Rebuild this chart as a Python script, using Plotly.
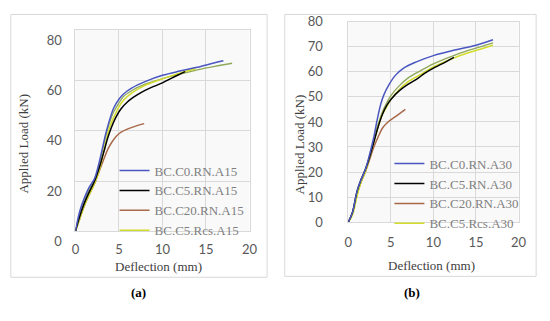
import plotly.graph_objects as go

# ---------------- data: panel (a) ----------------
a_c0_x = [0, 0.5, 1.0, 1.5, 2.2, 2.7, 3.1, 3.5, 3.9, 4.4, 5.0, 5.5, 6.5, 8.0, 10.0, 12.0, 14.0, 16.0, 17.0]
a_c0_y = [0, 8, 13, 17, 21, 27, 33, 39, 44, 49, 52.5, 54.5, 57, 59.5, 62, 63.7, 65.2, 67, 67.8]
a_c5_x = [0, 0.5, 1.0, 1.5, 2.2, 2.8, 3.3, 3.7, 4.1, 4.6, 5.2, 6.0, 7.0, 8.0, 9.0, 10.0, 11.0, 12.0, 12.6]
a_c5_y = [0, 6, 11, 15, 20, 26, 32, 37, 41, 45, 48.5, 51.5, 54, 56, 57.6, 59, 60.8, 62.5, 63.5]
a_c20_x = [0, 0.5, 1.0, 1.5, 2.2, 2.8, 3.3, 3.7, 4.2, 4.7, 5.3, 6.5, 7.9]
a_c20_y = [0, 5, 10, 14, 19, 24.5, 29, 32.5, 35.5, 37.8, 39.5, 41.3, 42.8]
a_rcs_x = [0, 0.5, 1.0, 1.5, 2.2, 2.8, 3.2, 3.6, 4.0, 4.5, 5.0, 5.5, 6.5, 8.0, 9.5, 11.0, 12.5, 13.8]
a_rcs_y = [0, 5, 10, 14, 19, 25, 31, 37, 42, 46, 49.5, 52, 55, 58, 60, 61.8, 63.4, 64.6]
a_extra_x = [0, 0.5, 1.0, 1.5, 2.2, 2.7, 3.1, 3.5, 3.9, 4.4, 5.0, 5.5, 6.5, 8.0, 10.0, 12.0, 14.0, 16.0, 18.0]
a_extra_y = [0, 7, 12, 16, 20.5, 26, 32, 38, 43, 47.5, 51, 53.5, 56, 58.5, 60.7, 62.5, 64.2, 65.6, 66.8]

# ---------------- data: panel (b) ----------------
b_c0_x = [0, 0.5, 1.0, 1.5, 2.0, 2.5, 3.0, 3.4, 3.8, 4.2, 4.8, 5.5, 6.5, 8.0, 10.0, 12.5, 15.0, 17.0]
b_c0_y = [0, 4, 12, 17, 21, 27, 34, 41, 47, 51, 55, 58.5, 61.5, 64, 66.5, 68.7, 70.6, 72.8]
b_c5_x = [0, 0.5, 1.0, 1.5, 2.0, 2.5, 3.0, 3.5, 4.0, 4.5, 5.0, 6.0, 7.0, 8.0, 9.0, 10.0, 11.0, 12.4]
b_c5_y = [0, 4, 12, 17, 21, 26, 32, 38, 43, 46.5, 49, 52.5, 55, 57, 59.5, 61.5, 63.2, 65.8]
b_c20_x = [0, 0.5, 1.0, 1.5, 2.0, 2.5, 3.0, 3.5, 4.0, 4.6, 5.5, 6.7]
b_c20_y = [0, 4, 11, 16, 20, 25, 30, 34, 37.5, 39.8, 42, 45]
b_rcs_x = [0, 0.5, 1.0, 1.5, 2.0, 2.5, 3.0, 3.5, 4.0, 4.5, 5.0, 6.0, 7.0, 8.5, 10.0, 12.0, 14.0, 15.5, 17.0]
b_rcs_y = [0, 3, 10, 16, 20, 26, 32, 38, 43, 46, 49, 53, 56, 59, 62, 65, 67.5, 69, 70.6]
b_extra_x = [0, 0.5, 1.0, 1.5, 2.0, 2.5, 3.0, 3.5, 4.0, 4.5, 5.0, 6.0, 7.0, 8.5, 10.0, 12.0, 14.0, 15.5, 17.0]
b_extra_y = [0, 3.5, 11, 16.5, 20.5, 26.5, 33, 39, 44, 47.5, 50.5, 54.5, 57.5, 60.5, 63.2, 66, 68.5, 70, 71.6]

a_names = ["BC.C0.RN.A15", "BC.C5.RN.A15", "BC.C20.RN.A15", "BC.C5.Rcs.A15"]
b_names = ["BC.C0.RN.A30", "BC.C5.RN.A30", "BC.C20.RN.A30", "BC.C5.Rcs.A30"]

x_ticks = [0, 5, 10, 15, 20]
a_y_ticks = [0, 20, 40, 60, 80]
b_y_ticks = [0, 10, 20, 30, 40, 50, 60, 70, 80]

colors = ["#4a57c0", "#000000", "#a8694a", "#d2dc2a"]
extra_color = "#8fa85a"

W, H = 550, 321
def px(x):
    return x / W
def py(y):
    return 1 - y / H

fig = go.Figure()

a_series = [(a_c0_x, a_c0_y), (a_c5_x, a_c5_y), (a_c20_x, a_c20_y), (a_rcs_x, a_rcs_y)]
b_series = [(b_c0_x, b_c0_y), (b_c5_x, b_c5_y), (b_c20_x, b_c20_y), (b_rcs_x, b_rcs_y)]

# extra unlabeled olive curves (drawn first, beneath)
fig.add_trace(go.Scatter(x=a_extra_x, y=a_extra_y, mode="lines", line=dict(color=extra_color, width=1.3),
                         showlegend=False, xaxis="x", yaxis="y", line_shape="spline"))
fig.add_trace(go.Scatter(x=b_extra_x, y=b_extra_y, mode="lines", line=dict(color=extra_color, width=1.3),
                         showlegend=False, xaxis="x2", yaxis="y2", line_shape="spline"))

order = [2, 3, 1, 0]
for i in order:
    xs, ys = a_series[i]
    fig.add_trace(go.Scatter(x=xs, y=ys, mode="lines", name=a_names[i], legend="legend",
                             line=dict(color=colors[i], width=1.5), line_shape="spline",
                             legendrank=i, xaxis="x", yaxis="y"))
for i in order:
    xs, ys = b_series[i]
    fig.add_trace(go.Scatter(x=xs, y=ys, mode="lines", name=b_names[i], legend="legend2",
                             line=dict(color=colors[i], width=1.5), line_shape="spline",
                             legendrank=i, xaxis="x2", yaxis="y2"))

tick_font = dict(family="Lato", size=13, color="#595959")
grid = "#d9d9d9"
common_x = dict(range=[0, 20], tickvals=x_ticks, showgrid=True, gridcolor=grid, gridwidth=1,
                zeroline=True, zerolinecolor=grid, showline=True, linecolor=grid, mirror=True,
                tickfont=tick_font, ticks="", fixedrange=True)
common_y = dict(range=[0, 80], showgrid=True, gridcolor=grid, gridwidth=1,
                zeroline=True, zerolinecolor=grid, showline=True, linecolor=grid, mirror=True,
                tickfont=tick_font, ticks="", fixedrange=True)

legend_common = dict(font=dict(family="Liberation Serif", size=13, color="#7f7f7f"),
                     bgcolor="rgba(0,0,0,0)", borderwidth=0, xanchor="left", yanchor="middle",
                     tracegroupgap=0, itemwidth=30, traceorder="normal")

serif_title = dict(family="Liberation Serif", size=13, color="#404040")
cap_font = dict(family="Liberation Serif", size=13, color="#000000")

fig.update_layout(
    width=W, height=H, margin=dict(l=0, r=0, t=0, b=0),
    paper_bgcolor="white", plot_bgcolor="#f9f9f9",
    xaxis=dict(domain=[px(73), px(251)], anchor="y", ticklabelstandoff=6, **common_x),
    yaxis=dict(domain=[py(243), py(24)], anchor="x", tickvals=a_y_ticks,
               ticklabelstandoff=10, ticklabelshift=10, **common_y),
    xaxis2=dict(domain=[px(352), px(526)], anchor="y2", ticklabelstandoff=8, **common_x),
    yaxis2=dict(domain=[py(233), py(15)], anchor="x2", tickvals=b_y_ticks,
                ticklabelstandoff=22, **common_y),
    legend=dict(x=px(113), y=py(209.5), **legend_common),
    legend2=dict(x=px(394), y=py(202), **legend_common),
    shapes=[
        dict(type="rect", xref="paper", yref="paper", x0=px(7), x1=px(269), y0=py(293), y1=py(7),
             line=dict(color="#d9d9d9", width=1), fillcolor="rgba(0,0,0,0)", layer="below"),
        dict(type="rect", xref="paper", yref="paper", x0=px(287), x1=px(544), y0=py(292), y1=py(7),
             line=dict(color="#d9d9d9", width=1), fillcolor="rgba(0,0,0,0)", layer="below"),
    ],
    annotations=[
        dict(text="Deflection (mm)", xref="paper", yref="paper", x=px(158), y=py(281),
             showarrow=False, font=serif_title, xanchor="center", yanchor="middle"),
        dict(text="Deflection (mm)", xref="paper", yref="paper", x=px(437), y=py(280),
             showarrow=False, font=serif_title, xanchor="center", yanchor="middle"),
        dict(text="Applied Load (kN)", xref="paper", yref="paper", x=px(19), y=py(148),
             showarrow=False, font=serif_title, textangle=-90, xanchor="center", yanchor="middle"),
        dict(text="Applied Load (kN)", xref="paper", yref="paper", x=px(302), y=py(148),
             showarrow=False, font=serif_title, textangle=-90, xanchor="center", yanchor="middle"),
        dict(text="<b>(a)</b>", xref="paper", yref="paper", x=px(138), y=py(310),
             showarrow=False, font=cap_font, xanchor="center", yanchor="middle"),
        dict(text="<b>(b)</b>", xref="paper", yref="paper", x=px(417), y=py(310),
             showarrow=False, font=cap_font, xanchor="center", yanchor="middle"),
    ],
)

fig.write_html("out.html", config={"displayModeBar": False},
               post_script="document.body.style.margin='0';document.body.style.overflow='hidden';")
